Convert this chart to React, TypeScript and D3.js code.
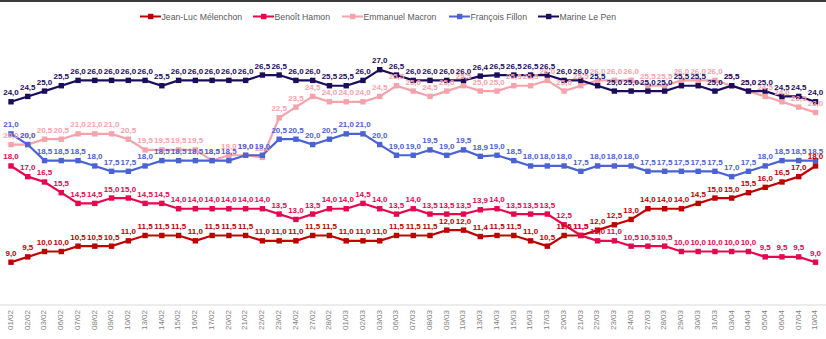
import React from "react";
import * as d3 from "d3";

const dates = [
  "01/02","02/02","03/02","06/02","07/02","08/02","09/02","10/02","13/02","14/02",
  "15/02","16/02","17/02","20/02","21/02","22/02","23/02","24/02","27/02","28/02",
  "01/03","02/03","03/03","06/03","07/03","08/03","09/03","10/03","13/03","14/03",
  "15/03","16/03","17/03","20/03","21/03","22/03","23/03","24/03","27/03","28/03",
  "29/03","30/03","31/03","03/04","04/04","05/04","06/04","07/04","10/04"
];

const melenchon = [
  9.0, 9.5, 10.0, 10.0, 10.5, 10.5, 10.5, 11.0, 11.5, 11.5,
  11.5, 11.0, 11.5, 11.5, 11.5, 11.0, 11.0, 11.0, 11.5, 11.5,
  11.0, 11.0, 11.0, 11.5, 11.5, 11.5, 12.0, 12.0, 11.4, 11.5,
  11.5, 11.0, 10.5, 11.5, 11.5, 12.0, 12.5, 13.0, 14.0, 14.0,
  14.0, 14.5, 15.0, 15.0, 15.5, 16.0, 16.5, 17.0, 18.0
];

const hamon = [
  18.0, 17.0, 16.5, 15.5, 14.5, 14.5, 15.0, 15.0, 14.5, 14.5,
  14.0, 14.0, 14.0, 14.0, 14.0, 14.0, 13.5, 13.0, 13.5, 14.0,
  14.0, 14.5, 14.0, 13.5, 14.0, 13.5, 13.5, 13.5, 13.9, 14.0,
  13.5, 13.5, 13.5, 12.5, 11.5, 11.0, 11.0, 10.5, 10.5, 10.5,
  10.0, 10.0, 10.0, 10.0, 10.0, 9.5, 9.5, 9.5, 9.0
];

const macron = [
  20.0, 20.0, 20.5, 20.5, 21.0, 21.0, 21.0, 20.5, 19.5, 19.5,
  19.5, 19.5, 18.5, 19.0, 19.0, 18.8, 22.5, 23.5, 24.5, 24.0,
  24.0, 24.0, 24.5, 25.5, 25.0, 24.5, 25.0, 25.5, 25.0, 25.0,
  25.5, 25.5, 26.0, 25.0, 25.5, 26.0, 26.0, 26.0, 25.5, 25.5,
  26.0, 26.0, 26.0, 25.5, 25.0, 24.5, 24.0, 23.5, 23.0
];

const fillon = [
  21.0, 20.0, 18.5, 18.5, 18.5, 18.0, 17.5, 17.5, 18.0, 18.5,
  18.5, 18.5, 18.5, 18.5, 19.0, 19.0, 20.5, 20.5, 20.0, 20.5,
  21.0, 21.0, 20.0, 19.0, 19.0, 19.5, 19.0, 19.5, 18.9, 19.0,
  18.5, 18.0, 18.0, 18.0, 17.5, 18.0, 18.0, 18.0, 17.5, 17.5,
  17.5, 17.5, 17.5, 17.0, 17.5, 18.0, 18.5, 18.5, 18.5
];

const lepen = [
  24.0, 24.5, 25.0, 25.5, 26.0, 26.0, 26.0, 26.0, 26.0, 25.5,
  26.0, 26.0, 26.0, 26.0, 26.0, 26.5, 26.5, 26.0, 26.0, 25.5,
  25.5, 26.0, 27.0, 26.5, 26.0, 26.0, 26.0, 26.0, 26.4, 26.5,
  26.5, 26.5, 26.5, 26.0, 26.0, 25.5, 25.0, 25.0, 25.0, 25.0,
  25.5, 25.5, 25.0, 25.5, 25.0, 25.0, 24.5, 24.5, 24.0
];

const seriesNames = ["Jean-Luc Mélenchon", "Benoît Hamon", "Emmanuel Macron", "François Fillon", "Marine Le Pen"];
const seriesValues = [melenchon, hamon, macron, fillon, lepen];
const seriesColors = ["#c00000", "#e8064f", "#f6a2aa", "#4a62d4", "#1b0c5e"];
const legendX = [140, 253, 342, 449, 538];

const FONT = "'Liberation Sans', Arial, sans-serif";

export default function App() {
  const W = 826, H = 339;
  const x = d3.scalePoint<string>().domain(dates).range([11, 815.5]);
  const y = d3.scaleLinear().domain([5, 30]).range([305, 37.6]);
  const line = d3.line<number>().x((_, i) => x(dates[i])!).y((d) => y(d));
  const fmt = (v: number) => v.toFixed(1).replace(".", ",");

  return (
    <svg width={W} height={H} style={{ position: "absolute", left: 0, top: 0, background: "#fff" }} fontFamily={FONT}>
      <rect x={0} y={0} width={W} height={H} fill="#fff" />
      <rect x={0} y={0} width={W} height={2} fill="#3a3a3a" />
      {/* legend */}
      {seriesNames.map((n, k) => (
        <g key={n} transform={`translate(${legendX[k]},16.5)`}>
          <line x1={0} x2={21} y1={0} y2={0} stroke={seriesColors[k]} strokeWidth={2} />
          <rect x={8} y={-2.7} width={5.4} height={5.4} fill={seriesColors[k]} />
          <text x={21.5} y={0} dy="0.35em" fontSize={8.7} fill="#595959">{n}</text>
        </g>
      ))}
      {/* x axis */}
      <line x1={0} x2={W} y1={305} y2={305} stroke="#d9d9d9" strokeWidth={1} />
      {dates.map((d) => (
        <text key={d} transform={`translate(${x(d)! - 1},310) rotate(-90)`} textAnchor="end" dy="0.35em" fontSize={8} fill="#7f7f7f">{d}</text>
      ))}
      {/* lines */}
      {seriesValues.map((vals, k) => (
        <g key={k}>
          <path d={line(vals)!} fill="none" stroke={seriesColors[k]} strokeWidth={2.2} />
          {vals.map((v, i) => (
            <rect key={i} x={x(dates[i])! - 2.7} y={y(v) - 2.7} width={5.4} height={5.4} fill={seriesColors[k]} />
          ))}
        </g>
      ))}
      {/* labels */}
      {seriesValues.map((vals, k) => (
        <g key={"l" + k}>
          {vals.map((v, i) => (
            <text key={i} x={x(dates[i])!} y={y(v) - 6.5} textAnchor="middle" fontSize={8} fontWeight="bold" fill={seriesColors[k]}>{fmt(v)}</text>
          ))}
        </g>
      ))}
    </svg>
  );
}
